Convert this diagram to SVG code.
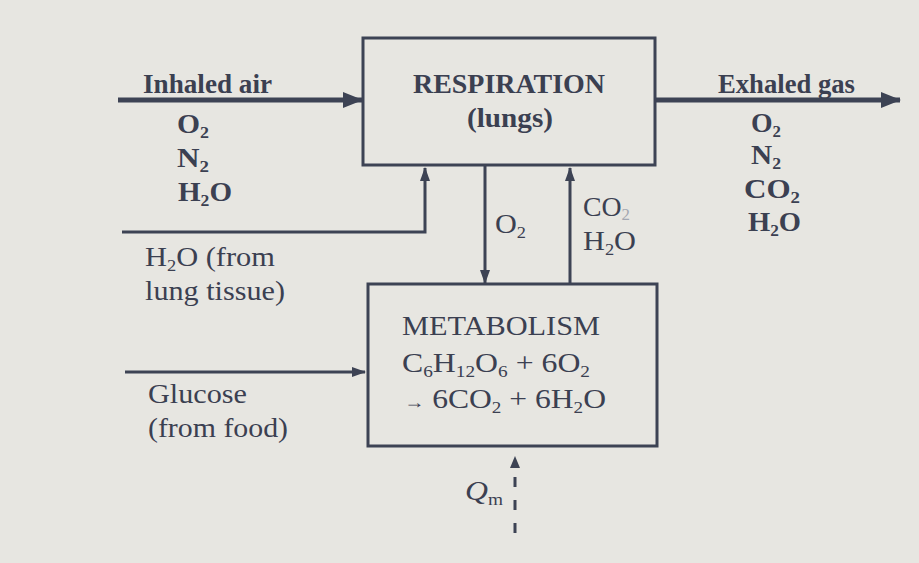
<svg xmlns="http://www.w3.org/2000/svg" width="919" height="563" viewBox="0 0 919 563">
<defs>
<marker id="ah" viewBox="0 0 20 16" refX="19" refY="8" markerWidth="20" markerHeight="16" orient="auto" markerUnits="userSpaceOnUse">
<path d="M0,0 L20,8 L0,16 z" fill="#3d4354"/>
</marker>
<marker id="ahs" viewBox="0 0 14 10" refX="13" refY="5" markerWidth="14" markerHeight="10" orient="auto" markerUnits="userSpaceOnUse">
<path d="M0,0 L14,5 L0,10 z" fill="#3d4354"/>
</marker>
<style>
text{font-family:"Liberation Serif","Times New Roman",serif;fill:#3b4051;font-size:28px}
.b{font-weight:bold}
.box{fill:none;stroke:#3d4354;stroke-width:3}
.thick{stroke:#3d4354;stroke-width:5;fill:none}
.thin{stroke:#3d4354;stroke-width:3;fill:none}
.sub{font-size:17px}
</style>
</defs>
<rect width="919" height="563" fill="#e7e6e1"/>
<g id="connectors">
<line class="thick" x1="118" y1="100" x2="362" y2="100" marker-end="url(#ah)"/>
<line class="thick" x1="655" y1="100" x2="900" y2="100" marker-end="url(#ah)"/>
<polyline class="thin" points="122,232 425,232 425,168" marker-end="url(#ahs)"/>
<line class="thin" x1="485" y1="166" x2="485" y2="283" marker-end="url(#ahs)"/>
<line class="thin" x1="570" y1="284" x2="570" y2="168" marker-end="url(#ahs)"/>
<line class="thin" x1="125" y1="372" x2="365" y2="372" marker-end="url(#ahs)"/>
<line class="thin" x1="515" y1="477" x2="515" y2="534" stroke-dasharray="10,13"/>
<path d="M510,468 L515,456 L520,468 z" fill="#3d4354"/>
</g>
<g id="respiration">
<rect class="box" x="363" y="38" width="292" height="127"/>
<text class="b" x="413" y="93" textLength="192" lengthAdjust="spacingAndGlyphs">RESPIRATION</text>
<text class="b" x="467" y="127" textLength="86" lengthAdjust="spacingAndGlyphs">(lungs)</text>
</g>
<g id="metabolism">
<rect class="box" x="368" y="284" width="289" height="162"/>
<text x="402" y="335" textLength="198" lengthAdjust="spacingAndGlyphs">METABOLISM</text>
<text x="402" y="372" textLength="188" lengthAdjust="spacingAndGlyphs">C<tspan class="sub" dy="5">6</tspan><tspan dy="-5">H</tspan><tspan class="sub" dy="5">12</tspan><tspan dy="-5">O</tspan><tspan class="sub" dy="5">6</tspan><tspan dy="-5"> + 6O</tspan><tspan class="sub" dy="5">2</tspan></text>
<text x="404" y="408" textLength="202" lengthAdjust="spacingAndGlyphs"><tspan font-size="18">→</tspan> 6CO<tspan class="sub" dy="5">2</tspan><tspan dy="-5"> + 6H</tspan><tspan class="sub" dy="5">2</tspan><tspan dy="-5">O</tspan></text>
</g>
<g id="inhaled">
<text class="b" x="143" y="93" textLength="129" lengthAdjust="spacingAndGlyphs">Inhaled air</text>
<text class="b" x="177" y="133" textLength="32" lengthAdjust="spacingAndGlyphs">O<tspan class="sub" dy="5">2</tspan></text>
<text class="b" x="177" y="167" textLength="32" lengthAdjust="spacingAndGlyphs">N<tspan class="sub" dy="5">2</tspan></text>
<text class="b" x="178" y="201" textLength="54" lengthAdjust="spacingAndGlyphs">H<tspan class="sub" dy="5">2</tspan><tspan dy="-5">O</tspan></text>
</g>
<g id="exhaled">
<text class="b" x="718" y="93" textLength="137" lengthAdjust="spacingAndGlyphs">Exhaled gas</text>
<text class="b" x="751" y="132" textLength="30" lengthAdjust="spacingAndGlyphs">O<tspan class="sub" dy="5">2</tspan></text>
<text class="b" x="751" y="164" textLength="30" lengthAdjust="spacingAndGlyphs">N<tspan class="sub" dy="5">2</tspan></text>
<text class="b" x="744" y="198" textLength="56" lengthAdjust="spacingAndGlyphs">CO<tspan class="sub" dy="5">2</tspan></text>
<text class="b" x="748" y="231" textLength="53" lengthAdjust="spacingAndGlyphs">H<tspan class="sub" dy="5">2</tspan><tspan dy="-5">O</tspan></text>
</g>
<g id="labels">
<text x="495" y="233" textLength="31" lengthAdjust="spacingAndGlyphs">O<tspan class="sub" dy="5">2</tspan></text>
<text x="583" y="216" textLength="47" lengthAdjust="spacingAndGlyphs">CO<tspan class="sub" dy="4" fill="#a3a8b2">2</tspan></text>
<text x="583" y="250" textLength="53" lengthAdjust="spacingAndGlyphs">H<tspan class="sub" dy="5">2</tspan><tspan dy="-5">O</tspan></text>
<text x="145" y="266" textLength="130" lengthAdjust="spacingAndGlyphs">H<tspan class="sub" dy="5">2</tspan><tspan dy="-5">O (from</tspan></text>
<text x="145" y="300" textLength="140" lengthAdjust="spacingAndGlyphs">lung tissue)</text>
<text x="148" y="403" fill="#4a5060" textLength="99" lengthAdjust="spacingAndGlyphs">Glucose</text>
<text x="148" y="437" textLength="140" lengthAdjust="spacingAndGlyphs">(from food)</text>
<text x="465" y="500" font-style="italic" textLength="38" lengthAdjust="spacingAndGlyphs">Q<tspan class="sub" dy="5" font-style="normal">m</tspan></text>
</g>
</svg>
